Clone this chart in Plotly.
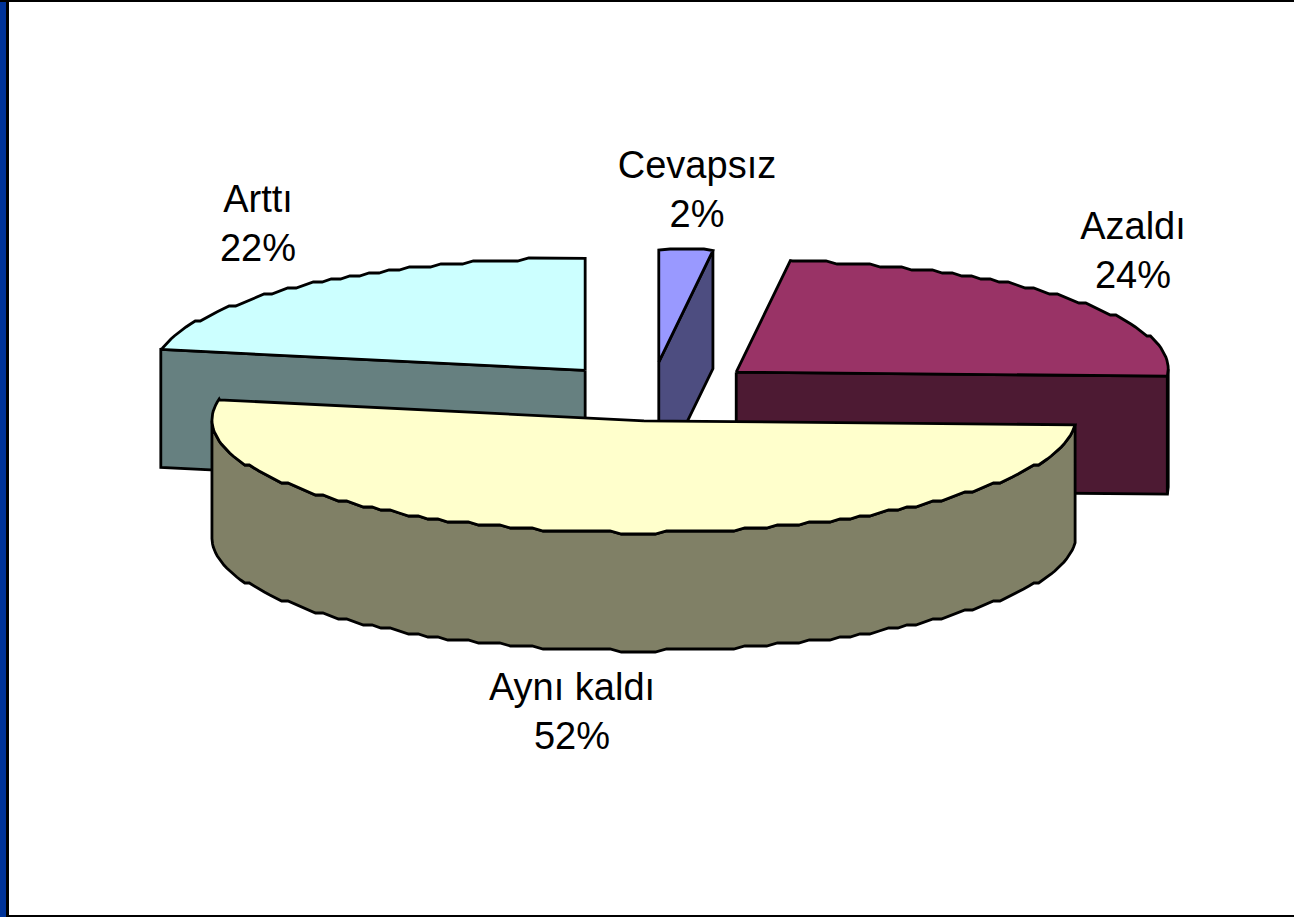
import math
import plotly.graph_objects as go

categories = ["Cevapsız", "Azaldı", "Aynı kaldı", "Arttı"]
values = [2, 24, 52, 22]
top_colors = ["#9999FF", "#993366", "#FFFFCC", "#CCFFFF"]
side_colors = ["#4D4D80", "#4D1A33", "#808066", "#668080"]
draw_order = ["Arttı", "Cevapsız", "Azaldı", "Aynı kaldı"]
label_x = [697, 1133, 572, 258]
label_y = [193, 254, 715, 227]

CX, CY, RX, RY, DEPTH, EXPLODE = 654, 391, 432, 112, 118, 0.25
STEP_Y = 3.0
STEP_A = 1.5
TILT = 3.0
# small per-slice corrections for the original's perspective projection
PERSPECTIVE = {"Cevapsız": (-2, -1), "Azaldı": (-1, -1), "Aynı kaldı": (3.5, 2), "Arttı": (0, 1)}


def rough(v):
    return round(v / STEP_Y) * STEP_Y


def point(ax, ay, a):
    t = math.radians(a)
    x = ax + RX * math.sin(t)
    y = ay - RY * math.cos(t) - TILT * max(0.0, math.sin(t))
    return x, y


def arc(ax, ay, a0, a1, dy=0):
    """Outline from a0 to a1 on a shared angle grid so that edges coincide."""
    lo, hi = min(a0, a1), max(a0, a1)
    inner = []
    k = math.floor(lo / STEP_A) + 1
    while k * STEP_A < hi:
        x, y = point(ax, ay, k * STEP_A)
        inner.append((x, rough(y)))
        k += 1
    pts = [point(ax, ay, lo)] + inner + [point(ax, ay, hi)]
    if a0 > a1:
        pts.reverse()
    return [(x, y + dy) for x, y in pts]


total = sum(values)
spans = {}
acc = 0.0
for c, v in zip(categories, values):
    spans[c] = (acc, acc + v / total * 360)
    acc += v / total * 360

fig = go.Figure()


def poly(pts, color):
    fig.add_trace(go.Scatter(
        x=[p[0] for p in pts] + [pts[0][0]],
        y=[p[1] for p in pts] + [pts[0][1]],
        mode="lines", fill="toself", fillcolor=color,
        line=dict(color="#000000", width=2.8, shape="linear"),
        hoverinfo="skip", showlegend=False))


for name in draw_order:
    i = categories.index(name)
    a0, a1 = spans[name]
    mid = math.radians((a0 + a1) / 2)
    ax = CX + EXPLODE * RX * math.sin(mid) + PERSPECTIVE[name][0]
    ay = CY - EXPLODE * RY * math.cos(mid) + PERSPECTIVE[name][1]
    side = side_colors[i]
    # radial walls facing the viewer
    if 180 < a0 < 360:
        e = point(ax, ay, a0)
        poly([(ax, ay), e, (e[0], e[1] + DEPTH), (ax, ay + DEPTH)], side)
    if 0 < a1 < 180:
        e = point(ax, ay, a1)
        poly([(ax, ay), e, (e[0], e[1] + DEPTH), (ax, ay + DEPTH)], side)
    # outer wall on the near half of the ellipse
    w0, w1 = max(a0, 90), min(a1, 270)
    if w1 > w0:
        poly(arc(ax, ay, w0, w1) + arc(ax, ay, w1, w0, DEPTH), side)
    # top face
    poly([(ax, ay)] + arc(ax, ay, a0, a1), top_colors[i])

fig.add_trace(go.Scatter(
    x=label_x, y=label_y, mode="text",
    text=[f"{c}<br>{v}%" for c, v in zip(categories, values)],
    textposition="middle center",
    textfont=dict(family="Liberation Sans, Arial, sans-serif", size=38, color="#000000"),
    hoverinfo="skip", showlegend=False))

fig.update_layout(
    width=1294, height=917, autosize=False,
    margin=dict(l=0, r=0, t=0, b=0),
    paper_bgcolor="#FFFFFF", plot_bgcolor="#FFFFFF",
    showlegend=False,
    xaxis=dict(range=[0, 1294], visible=False, fixedrange=True),
    yaxis=dict(range=[917, 0], visible=False, fixedrange=True),
    shapes=[
        dict(type="rect", xref="paper", yref="paper", x0=0, x1=6 / 1294, y0=0, y1=1,
             fillcolor="#003399", line_width=0, layer="above"),
        dict(type="rect", xref="paper", yref="paper", x0=6 / 1294, x1=9 / 1294, y0=0, y1=1,
             fillcolor="#000000", line_width=0, layer="above"),
        dict(type="rect", xref="paper", yref="paper", x0=0, x1=1, y0=1 - 2 / 917, y1=1,
             fillcolor="#000000", line_width=0, layer="above"),
        dict(type="rect", xref="paper", yref="paper", x0=9 / 1294, x1=1, y0=0, y1=2 / 917,
             fillcolor="#000000", line_width=0, layer="above"),
    ],
)
fig.write_html(
    "out.html",
    config={"displayModeBar": False},
    post_script="document.body.style.margin='0';document.body.style.overflow='hidden';",
)
